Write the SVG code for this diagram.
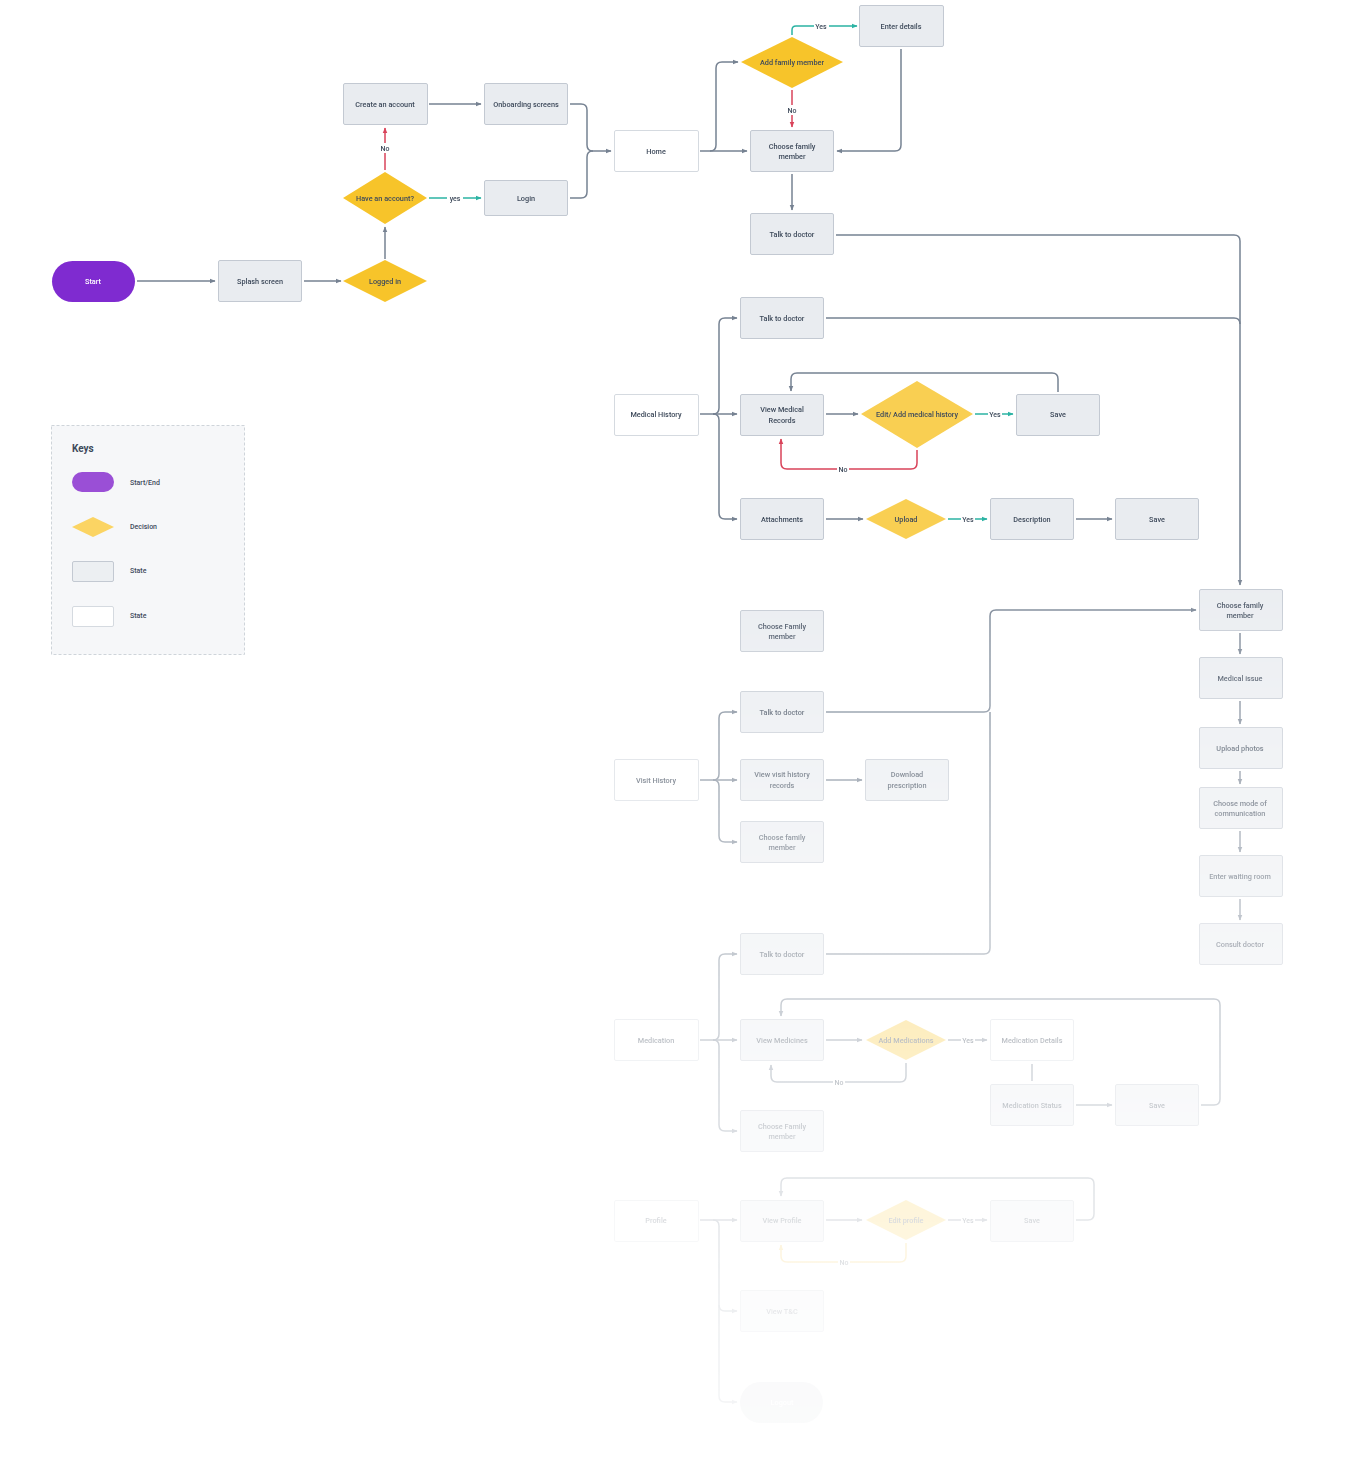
<svg xmlns="http://www.w3.org/2000/svg" width="1360" height="1458" viewBox="0 0 1360 1458">
<style>
text{font-family:Roboto,"Liberation Sans",sans-serif;font-size:7.3px;font-weight:500;fill:#3e4a5b;text-anchor:middle}
.s rect{fill:#e9ecf0;stroke:#c3c9d2;stroke-width:1}
.w rect{fill:#fff;stroke:#d5dae0;stroke-width:1}
.d polygon{fill:#f7c42a}
.d2 polygon{fill:#f9cf52}
.p rect{fill:#7f2bd0}
.p text{fill:#fff}
.lo rect{fill:#c5cad2}
.lo text{fill:#fff}
#connectors path{fill:none;stroke-width:1.5;stroke-linejoin:round}
.g{stroke:#768292;marker-end:url(#ag)}
.gn{stroke:#768292}
.r{stroke:#d9435a;marker-end:url(#ar)}
.tl{stroke:#2bb3a3;marker-end:url(#at)}
.y{stroke:#f3c44a;marker-end:url(#ay)}
.lb rect{fill:#fff}
.lb text{font-size:7px}
.key text{text-anchor:start;font-size:7px}
</style>
<defs>
<marker id="ag" viewBox="0 0 10 10" refX="9" refY="5" markerWidth="6" markerHeight="6" markerUnits="userSpaceOnUse" orient="auto"><path d="M0,1 L10,5 L0,9 Z" fill="#768292"/></marker>
<marker id="ar" viewBox="0 0 10 10" refX="9" refY="5" markerWidth="6" markerHeight="6" markerUnits="userSpaceOnUse" orient="auto"><path d="M0,1 L10,5 L0,9 Z" fill="#d9435a"/></marker>
<marker id="at" viewBox="0 0 10 10" refX="9" refY="5" markerWidth="6" markerHeight="6" markerUnits="userSpaceOnUse" orient="auto"><path d="M0,1 L10,5 L0,9 Z" fill="#2bb3a3"/></marker>
<marker id="ay" viewBox="0 0 10 10" refX="9" refY="5" markerWidth="6" markerHeight="6" markerUnits="userSpaceOnUse" orient="auto"><path d="M0,1 L10,5 L0,9 Z" fill="#f3c44a"/></marker>
<linearGradient id="fg" gradientUnits="userSpaceOnUse" x1="0" y1="0" x2="0" y2="1458">
<stop offset="0" stop-color="#fff" stop-opacity="1"/>
<stop offset="0.38" stop-color="#fff" stop-opacity="1"/>
<stop offset="0.42" stop-color="#fff" stop-opacity="0.88"/>
<stop offset="0.5" stop-color="#fff" stop-opacity="0.68"/>
<stop offset="0.6" stop-color="#fff" stop-opacity="0.5"/>
<stop offset="0.7" stop-color="#fff" stop-opacity="0.37"/>
<stop offset="0.8" stop-color="#fff" stop-opacity="0.24"/>
<stop offset="0.9" stop-color="#fff" stop-opacity="0.13"/>
<stop offset="1" stop-color="#fff" stop-opacity="0.06"/>
</linearGradient>
<mask id="fade" maskUnits="userSpaceOnUse" x="0" y="0" width="1360" height="1458"><rect width="1360" height="1458" fill="url(#fg)"/></mask>
</defs>
<rect width="1360" height="1458" fill="#fff"/>

<g id="keys" class="key">
<rect x="51.5" y="425.5" width="193" height="229" fill="#f6f7f9" stroke="#cfd4da" stroke-dasharray="3,2"/>
<text x="72" y="452" style="font-size:10px;font-weight:700">Keys</text>
<rect x="72" y="472" width="42" height="20" rx="10" fill="#9a4fd6"/>
<text x="130" y="485">Start/End</text>
<polygon points="72,527 93,517 114,527 93,537" fill="#fbd463"/>
<text x="130" y="529">Decision</text>
<rect x="72.5" y="561.5" width="41" height="20" rx="1.5" fill="#eceff2" stroke="#c3c9d2"/>
<text x="130" y="573">State</text>
<rect x="72.5" y="606.5" width="41" height="20" rx="1.5" fill="#fff" stroke="#d5dae0"/>
<text x="130" y="618">State</text>
</g>

<g mask="url(#fade)">
<g id="connectors">
<path class="g" d="M137,281 H215"/>
<path class="g" d="M304,281 H341"/>
<path class="g" d="M385,259 V227"/>
<path class="g" d="M429,104 H481"/>
<path class="gn" d="M570,104 H581 Q587,104 587,110 V145 Q587,151 593,151"/>
<path class="gn" d="M570,198 H581 Q587,198 587,192 V157 Q587,151 593,151"/>
<path class="g" d="M593,151 H611"/>
<path class="g" d="M700,151 H747"/>
<path class="g" d="M710,151 Q716,151 716,145 V68 Q716,62 722,62 H738"/>
<path class="g" d="M901,49 V145 Q901,151 895,151 H837"/>
<path class="g" d="M792,174 V210"/>
<path class="g" d="M836,235 H1234 Q1240,235 1240,241 V585"/>
<path class="gn" d="M826,318 H1234 Q1240,318 1240,324"/>
<path class="r" d="M385,170 V128"/>
<path class="tl" d="M429,198 H481"/>
<path class="tl" d="M792,35 V30 Q792,26 796,26 H857"/>
<path class="r" d="M792,90 V127"/>

<path class="g" d="M700,414 H737"/>
<path class="g" d="M713,414 Q719,414 719,408 V324 Q719,318 725,318 H737"/>
<path class="g" d="M713,414 Q719,414 719,420 V513 Q719,519 725,519 H737"/>
<path class="g" d="M826,414 H858"/>
<path class="tl" d="M975,414 H1013"/>
<path class="g" d="M1058,392 V379 Q1058,373 1052,373 H797 Q791,373 791,379 V391"/>
<path class="r" d="M917,450 V463 Q917,469 911,469 H787 Q781,469 781,463 V439"/>
<path class="g" d="M826,519 H863"/>
<path class="tl" d="M948,519 H987"/>
<path class="g" d="M1076,519 H1112"/>

<path class="g" d="M1240,633 V654"/>
<path class="g" d="M1240,701 V724"/>
<path class="g" d="M1240,771 V784"/>
<path class="g" d="M1240,831 V852"/>
<path class="g" d="M1240,899 V920"/>

<path class="g" d="M826,712 H984 Q990,712 990,706 V616 Q990,610 996,610 H1196"/>
<path class="gn" d="M826,954 H984 Q990,954 990,948 V712"/>
<path class="g" d="M700,780 H737"/>
<path class="g" d="M713,780 Q719,780 719,774 V718 Q719,712 725,712 H737"/>
<path class="g" d="M713,780 Q719,780 719,786 V836 Q719,842 725,842 H737"/>
<path class="g" d="M826,780 H862"/>

<path class="g" d="M700,1040 H737"/>
<path class="g" d="M713,1040 Q719,1040 719,1034 V960 Q719,954 725,954 H737"/>
<path class="g" d="M713,1040 Q719,1040 719,1046 V1125 Q719,1131 725,1131 H737"/>
<path class="g" d="M826,1040 H862"/>
<path class="g" d="M948,1040 H987"/>
<path class="g" d="M906,1063 V1076 Q906,1082 900,1082 H777 Q771,1082 771,1076 V1065"/>
<path class="gn" d="M1032,1064 V1081"/>
<path class="g" d="M1076,1105 H1112"/>
<path class="g" d="M1201,1105 H1214 Q1220,1105 1220,1099 V1005 Q1220,999 1214,999 H787 Q781,999 781,1005 V1016"/>

<path class="g" d="M700,1220 H737"/>
<path class="g" d="M713,1220 Q719,1220 719,1226 V1305 Q719,1311 725,1311 H737"/>
<path class="g" d="M719,1305 V1396 Q719,1402 725,1402 H737"/>
<path class="g" d="M826,1220 H862"/>
<path class="g" d="M948,1220 H987"/>
<path class="y" d="M906,1243 V1256 Q906,1262 900,1262 H787 Q781,1262 781,1256 V1245"/>
<path class="g" d="M1076,1220 H1088 Q1094,1220 1094,1214 V1184 Q1094,1178 1088,1178 H787 Q781,1178 781,1184 V1196"/>

<g class="lb">
<rect x="379" y="143" width="12" height="10"/><text x="385" y="150.5">No</text>
<rect x="447" y="193" width="16" height="10"/><text x="455" y="200.5">yes</text>
<rect x="814" y="21" width="15" height="10"/><text x="821" y="28.5">Yes</text>
<rect x="786" y="105" width="12" height="10"/><text x="792" y="112.5">No</text>
<rect x="988" y="409" width="14" height="10"/><text x="995" y="416.5">Yes</text>
<rect x="837" y="464" width="12" height="10"/><text x="843" y="471.5">No</text>
<rect x="961" y="514" width="14" height="10"/><text x="968" y="521.5">Yes</text>
<rect x="961" y="1035" width="14" height="10"/><text x="968" y="1042.5">Yes</text>
<rect x="833" y="1077" width="12" height="10"/><text x="839" y="1084.5">No</text>
<rect x="961" y="1215" width="14" height="10"/><text x="968" y="1222.5">Yes</text>
<rect x="838" y="1257" width="12" height="10"/><text x="844" y="1264.5">No</text>
</g>
</g>

<g id="start" class="p"><rect x="52" y="261" width="83" height="41" rx="20.5"/><text x="93" y="284">Start</text></g>
<g id="splash" class="s"><rect x="218.5" y="260.5" width="83" height="41" rx="1.5"/><text x="260" y="284">Splash screen</text></g>
<g id="logged-in" class="d"><polygon points="343,281 385,260 427,281 385,302"/><text x="385" y="284">Logged in</text></g>
<g id="have-account" class="d"><polygon points="343,198 385,172 427,198 385,224"/><text x="385" y="200.5">Have an account?</text></g>
<g id="create-account" class="s"><rect x="343.5" y="83.5" width="84" height="41" rx="1.5"/><text x="385" y="106.5">Create an account</text></g>
<g id="onboarding" class="s"><rect x="484.5" y="83.5" width="83" height="41" rx="1.5"/><text x="526" y="106.5">Onboarding screens</text></g>
<g id="login" class="s"><rect x="484.5" y="180.5" width="83" height="35" rx="1.5"/><text x="526" y="200.5">Login</text></g>
<g id="home" class="w"><rect x="614.5" y="130.5" width="84" height="41" rx="1.5"/><text x="656" y="154">Home</text></g>
<g id="add-family" class="d"><polygon points="741,62 792,37 843,62 792,88"/><text x="792" y="65">Add family member</text></g>
<g id="enter-details" class="s"><rect x="859.5" y="5.5" width="84" height="41" rx="1.5"/><text x="901" y="29">Enter details</text></g>
<g id="choose-family" class="s"><rect x="750.5" y="130.5" width="83" height="41" rx="1.5"/><text x="792" y="148.5">Choose family</text><text x="792" y="159">member</text></g>
<g id="talk-doctor-1" class="s"><rect x="750.5" y="213.5" width="83" height="41" rx="1.5"/><text x="792" y="237">Talk to doctor</text></g>

<g id="medical-history" class="w"><rect x="614.5" y="394.5" width="84" height="41" rx="1.5"/><text x="656" y="417">Medical History</text></g>
<g id="talk-doctor-2" class="s"><rect x="740.5" y="297.5" width="83" height="41" rx="1.5"/><text x="782" y="320.5">Talk to doctor</text></g>
<g id="view-records" class="s"><rect x="740.5" y="394.5" width="83" height="41" rx="1.5"/><text x="782" y="412">View Medical</text><text x="782" y="422.5">Records</text></g>
<g id="edit-history" class="d2"><polygon points="861,414 917,381 973,414 917,448"/><text x="917" y="417">Edit/ Add medical history</text></g>
<g id="save-1" class="s"><rect x="1016.5" y="394.5" width="83" height="41" rx="1.5"/><text x="1058" y="417">Save</text></g>
<g id="attachments" class="s"><rect x="740.5" y="498.5" width="83" height="41" rx="1.5"/><text x="782" y="521.5">Attachments</text></g>
<g id="upload" class="d2"><polygon points="866,519 906,499 946,519 906,539"/><text x="906" y="521.5">Upload</text></g>
<g id="description" class="s"><rect x="990.5" y="498.5" width="83" height="41" rx="1.5"/><text x="1032" y="521.5">Description</text></g>
<g id="save-2" class="s"><rect x="1115.5" y="498.5" width="83" height="41" rx="1.5"/><text x="1157" y="521.5">Save</text></g>

<g id="choose-family-r" class="s"><rect x="1199.5" y="589.5" width="83" height="41" rx="1.5"/><text x="1240" y="607.5">Choose family</text><text x="1240" y="618">member</text></g>
<g id="medical-issue" class="s"><rect x="1199.5" y="657.5" width="83" height="41" rx="1.5"/><text x="1240" y="680.5">Medical issue</text></g>
<g id="upload-photos" class="s"><rect x="1199.5" y="727.5" width="83" height="41" rx="1.5"/><text x="1240" y="750.5">Upload photos</text></g>
<g id="mode-comm" class="s"><rect x="1199.5" y="787.5" width="83" height="41" rx="1.5"/><text x="1240" y="805.5">Choose mode of</text><text x="1240" y="816">communication</text></g>
<g id="waiting-room" class="s"><rect x="1199.5" y="855.5" width="83" height="41" rx="1.5"/><text x="1240" y="878.5">Enter waiting room</text></g>
<g id="consult" class="s"><rect x="1199.5" y="923.5" width="83" height="41" rx="1.5"/><text x="1240" y="946.5">Consult doctor</text></g>

<g id="choose-family-v" class="s"><rect x="740.5" y="610.5" width="83" height="41" rx="1.5"/><text x="782" y="628.5">Choose Family</text><text x="782" y="639">member</text></g>
<g id="visit-history" class="w"><rect x="614.5" y="759.5" width="84" height="41" rx="1.5"/><text x="656" y="782.5">Visit History</text></g>
<g id="talk-doctor-3" class="s"><rect x="740.5" y="691.5" width="83" height="41" rx="1.5"/><text x="782" y="714.5">Talk to doctor</text></g>
<g id="view-visit" class="s"><rect x="740.5" y="759.5" width="83" height="41" rx="1.5"/><text x="782" y="777">View visit history</text><text x="782" y="787.5">records</text></g>
<g id="download" class="s"><rect x="865.5" y="759.5" width="83" height="41" rx="1.5"/><text x="907" y="777">Download</text><text x="907" y="787.5">prescription</text></g>
<g id="choose-family-v2" class="s"><rect x="740.5" y="821.5" width="83" height="41" rx="1.5"/><text x="782" y="839.5">Choose family</text><text x="782" y="850">member</text></g>

<g id="talk-doctor-4" class="s"><rect x="740.5" y="933.5" width="83" height="41" rx="1.5"/><text x="782" y="956.5">Talk to doctor</text></g>
<g id="medication" class="w"><rect x="614.5" y="1019.5" width="84" height="41" rx="1.5"/><text x="656" y="1042.5">Medication</text></g>
<g id="view-medicines" class="s"><rect x="740.5" y="1019.5" width="83" height="41" rx="1.5"/><text x="782" y="1042.5">View Medicines</text></g>
<g id="add-medications" class="d2"><polygon points="866,1040 906,1020 946,1040 906,1060"/><text x="906" y="1042.5">Add Medications</text></g>
<g id="med-details" class="w"><rect x="990.5" y="1019.5" width="83" height="41" rx="1.5"/><text x="1032" y="1042.5">Medication Details</text></g>
<g id="med-status" class="s"><rect x="990.5" y="1084.5" width="83" height="41" rx="1.5"/><text x="1032" y="1107.5">Medication Status</text></g>
<g id="save-3" class="s"><rect x="1115.5" y="1084.5" width="83" height="41" rx="1.5"/><text x="1157" y="1107.5">Save</text></g>
<g id="choose-family-m" class="s"><rect x="740.5" y="1110.5" width="83" height="41" rx="1.5"/><text x="782" y="1128.5">Choose Family</text><text x="782" y="1139">member</text></g>

<g id="profile" class="w"><rect x="614.5" y="1200.5" width="84" height="41" rx="1.5"/><text x="656" y="1223">Profile</text></g>
<g id="view-profile" class="s"><rect x="740.5" y="1200.5" width="83" height="41" rx="1.5"/><text x="782" y="1223">View Profile</text></g>
<g id="edit-profile" class="d2"><polygon points="866,1220 906,1200 946,1220 906,1240"/><text x="906" y="1222.5">Edit profile</text></g>
<g id="save-4" class="s"><rect x="990.5" y="1200.5" width="83" height="41" rx="1.5"/><text x="1032" y="1223">Save</text></g>
<g id="view-tc" class="s"><rect x="740.5" y="1290.5" width="83" height="41" rx="1.5"/><text x="782" y="1313.5">View T&amp;C</text></g>
<g id="logout" class="lo"><rect x="740" y="1382" width="83" height="41" rx="20.5"/><text x="782" y="1405">Logout</text></g>
</g>
</svg>
